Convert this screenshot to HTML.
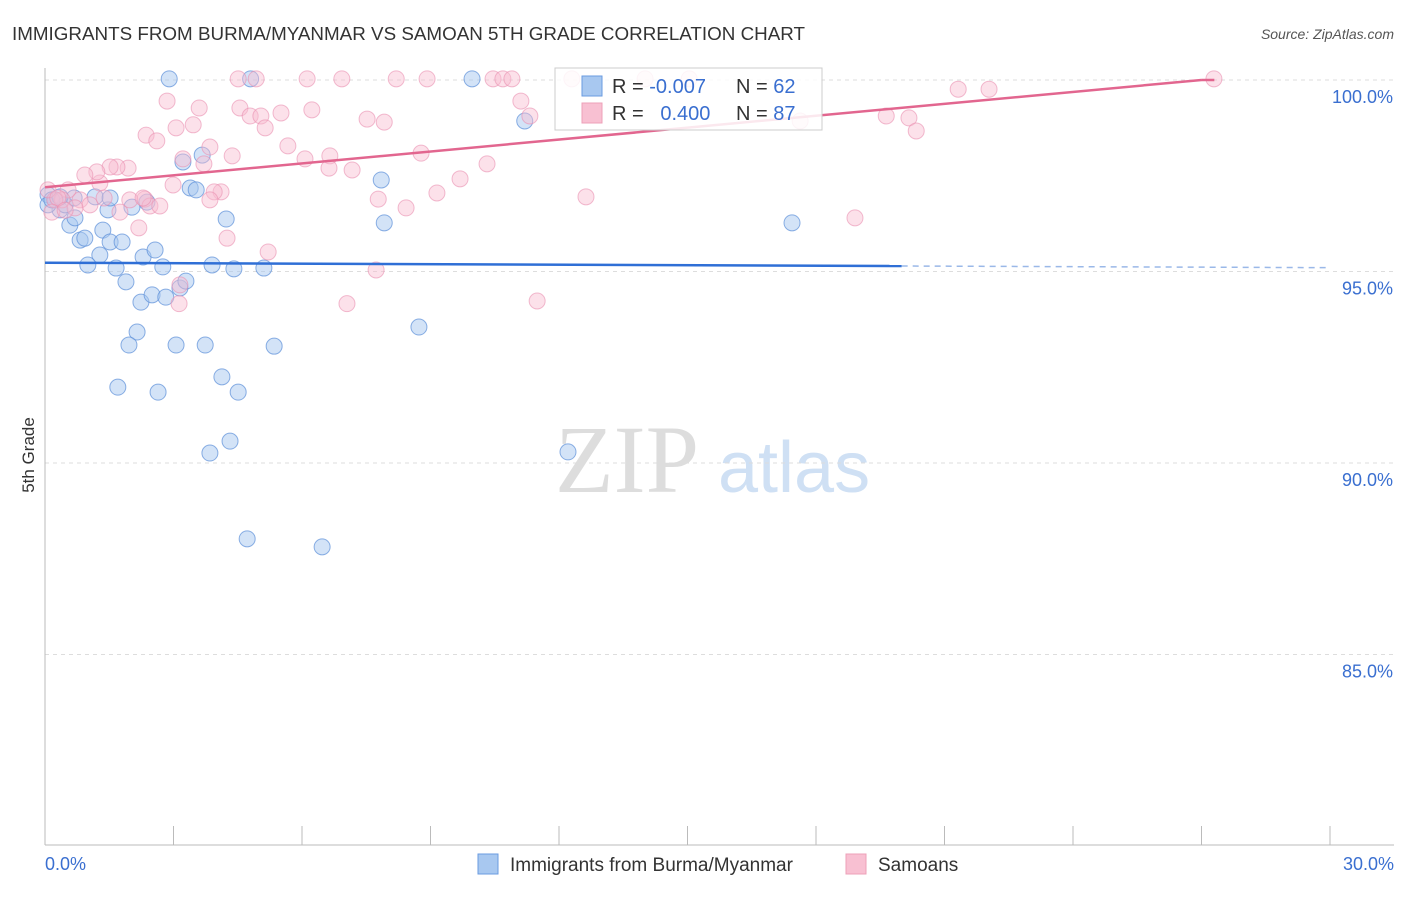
<!DOCTYPE html>
<html><head><meta charset="utf-8"><style>
body{margin:0;background:#fff;font-family:"Liberation Sans",sans-serif;}
</style></head><body>
<svg id="c" width="1406" height="892" xmlns="http://www.w3.org/2000/svg">
<text x="12" y="40" font-size="18" fill="#333" textLength="793" lengthAdjust="spacingAndGlyphs">IMMIGRANTS FROM BURMA/MYANMAR VS SAMOAN 5TH GRADE CORRELATION CHART</text>
<text x="1394" y="39" font-size="14" fill="#555" font-style="italic" text-anchor="end">Source: ZipAtlas.com</text>
<text x="34" y="455" font-size="17" fill="#333" transform="rotate(-90 34 455)" text-anchor="middle">5th Grade</text>
<text x="555" y="492" font-size="96" fill="#ddd" font-family="Liberation Serif,serif">ZIP</text>
<text x="718" y="492" font-size="72" fill="#cfe0f4">atlas</text>
<g id="grid"></g><g id="pts"></g><g id="lines"></g>
<g>
<rect x="555" y="68" width="267" height="62" fill="#fff" fill-opacity="0.85" stroke="#ccc"/>
<rect x="582" y="76" width="20" height="20" fill="#a8c8f0" stroke="#6a9be0"/>
<rect x="582" y="103" width="20" height="20" fill="#f8c0d2" stroke="#eea0b8"/>
<text x="612" y="93" font-size="20" fill="#333">R = <tspan fill="#3a6fd0">-0.007</tspan></text>
<text x="736" y="93" font-size="20" fill="#333">N = <tspan fill="#3a6fd0">62</tspan></text>
<text x="612" y="120" font-size="20" fill="#333">R = <tspan fill="#3a6fd0">&#160; 0.400</tspan></text>
<text x="736" y="120" font-size="20" fill="#333">N = <tspan fill="#3a6fd0">87</tspan></text>
</g>
<g>
<rect x="478" y="854" width="20" height="20" fill="#a8c8f0" stroke="#6a9be0"/>
<text x="510" y="871" font-size="19" fill="#333">Immigrants from Burma/Myanmar</text>
<rect x="846" y="854" width="20" height="20" fill="#f8c0d2" stroke="#eea0b8"/>
<text x="878" y="871" font-size="19" fill="#333">Samoans</text>
</g>
</svg>
<script>
const yTicks=[100,95,90,85];
const xTicks=[0,3,6,9,12,15,18,21,24,27,30];
const blueX=[2.9,4.8,9.97,11.2,0.07,0.23,0.35,0.47,0.58,0.7,0.82,0.93,1.17,1.28,1.0,1.35,1.47,1.52,1.66,1.8,1.89,2.03,2.15,2.24,1.96,1.7,2.29,2.38,2.5,2.57,2.64,2.75,2.82,3.06,3.15,3.29,3.22,3.39,3.53,3.67,3.74,3.85,3.9,4.13,4.23,4.32,4.41,4.51,4.72,5.11,5.35,6.47,7.85,7.92,8.73,12.21,17.44,1.52,0.07,0.16,0.68,0.35];
const blueY=[100.03,100.03,100.03,98.93,97.0,96.87,96.61,96.74,96.21,96.4,95.82,95.87,96.95,95.43,95.17,96.08,96.61,95.77,95.09,95.77,94.73,96.68,93.42,94.2,93.08,91.98,95.38,96.81,94.39,95.56,91.85,95.12,94.33,93.08,94.57,94.75,97.86,97.18,97.13,98.04,93.08,90.26,95.17,92.25,96.37,90.57,95.07,91.85,88.02,95.09,93.05,87.81,97.39,96.27,93.55,90.29,96.27,96.92,96.74,96.87,96.92,96.95];
const pinkX=[2.85,3.6,2.36,2.61,3.06,3.46,3.85,4.37,3.22,3.71,4.55,4.79,5.04,5.14,5.51,5.67,6.07,6.23,6.65,6.63,7.17,7.52,7.92,8.78,8.43,9.15,9.69,10.32,11.11,11.32,12.63,7.78,7.73,7.05,11.49,5.21,4.25,4.11,3.95,3.85,3.15,3.13,2.99,2.33,2.45,2.19,1.98,1.94,1.68,1.52,1.28,1.21,0.93,0.82,0.54,0.4,0.23,0.07,1.05,1.75,2.29,1.38,4.51,4.93,6.12,6.93,8.2,8.92,10.46,10.69,10.9,12.3,14.01,15.04,21.32,22.04,19.64,20.17,20.34,18.91,27.29,17.63,0.3,0.7,0.16,0.47,2.68];
const pinkY=[99.45,99.27,98.56,98.41,98.75,98.83,98.25,98.02,97.94,97.81,99.27,99.06,99.06,98.75,99.14,98.28,97.94,99.22,98.02,97.7,97.65,98.98,98.9,98.09,96.66,97.05,97.42,97.81,99.45,99.06,96.95,96.89,95.04,94.16,94.23,95.51,95.87,97.08,97.08,96.87,94.65,94.16,97.26,96.89,96.71,96.14,96.87,97.7,97.73,97.73,97.31,97.6,97.52,96.87,97.13,96.87,96.87,97.13,96.74,96.55,96.92,96.92,100.03,100.03,100.03,100.03,100.03,100.03,100.03,100.03,100.03,100.03,100.03,100.03,99.76,99.76,99.06,99.01,98.67,96.4,100.03,98.93,96.92,96.66,96.55,96.6,96.71];
const blueTrend=[95.23,95.1];const blueTrendEnd=20.0;
const pinkTrend=[97.2,100.0];const pinkTrendEnd=27.0;
const X0=45,X1=1330,Y100=80,PX5=191.5;
const sx=v=>X0+(X1-X0)*v/30;
const sy=v=>Y100+(100-v)*PX5/5;
const NS="http://www.w3.org/2000/svg";
function mk(t,a,p){const e=document.createElementNS(NS,t);for(const k in a)e.setAttribute(k,a[k]);p.appendChild(e);return e;}
const g=document.getElementById('grid');
yTicks.forEach(v=>{
 const l=mk('line',{x1:X0,x2:1394,y1:sy(v),y2:sy(v),stroke:'#ddd','stroke-dasharray':'4,4'},g);
 
 
 const t=mk('text',{x:1393,y:sy(v)+23,'font-size':18,fill:'#3a6fd0','text-anchor':'end'},g);
 
 
 t.textContent=v.toFixed(1)+'%';
});
const ax=mk('line',{x1:X0,x2:X0,y1:68,y2:845,stroke:'#bbb'},g);


const bx=mk('line',{x1:X0,x2:1394,y1:845,y2:845,stroke:'#bbb'},g);


xTicks.forEach(v=>{
 const l=mk('line',{x1:sx(v),x2:sx(v),y1:826,y2:845,stroke:'#bbb'},g);
 
 
});
[[0,'start',45],[30,'end',1394]].forEach(([v,a,x])=>{
 const t=mk('text',{x:x,y:870,'font-size':18,fill:'#3a6fd0','text-anchor':a},g);
 
 
 t.textContent=v.toFixed(1)+'%';
});
const p=document.getElementById('pts');
blueX.forEach((x,i)=>{
 const c=mk('circle',{cx:sx(x),cy:sy(blueY[i]),r:8,fill:'#a8c8f0','fill-opacity':0.5,stroke:'#5b8fd9','stroke-opacity':0.7},p);
 
 
});
pinkX.forEach((x,i)=>{
 const c=mk('circle',{cx:sx(x),cy:sy(pinkY[i]),r:8,fill:'#f8bcd0','fill-opacity':0.45,stroke:'#ea8fb0','stroke-opacity':0.6},p);
 
 
});
const L=document.getElementById('lines');
const slopeB=(blueTrend[1]-blueTrend[0])/30;
const bl=mk('line',{x1:sx(0),y1:sy(blueTrend[0]),x2:sx(blueTrendEnd),y2:sy(blueTrend[0]+slopeB*blueTrendEnd),stroke:'#2f6fd6','stroke-width':2.5},L);


const bd=mk('line',{x1:sx(blueTrendEnd),y1:sy(blueTrend[0]+slopeB*blueTrendEnd),x2:sx(30),y2:sy(blueTrend[1]),stroke:'#9ab8e8','stroke-width':1.5,'stroke-dasharray':'6,5'},L);


const pl=mk('line',{x1:sx(0),y1:sy(pinkTrend[0]),x2:sx(pinkTrendEnd),y2:sy(pinkTrend[1]),stroke:'#e2668f','stroke-width':2.5},L);


const pl2=mk('line',{x1:sx(pinkTrendEnd),y1:sy(pinkTrend[1]),x2:sx(27.3),y2:sy(pinkTrend[1]),stroke:'#e2668f','stroke-width':2.5},L);


</script>
</body></html>
